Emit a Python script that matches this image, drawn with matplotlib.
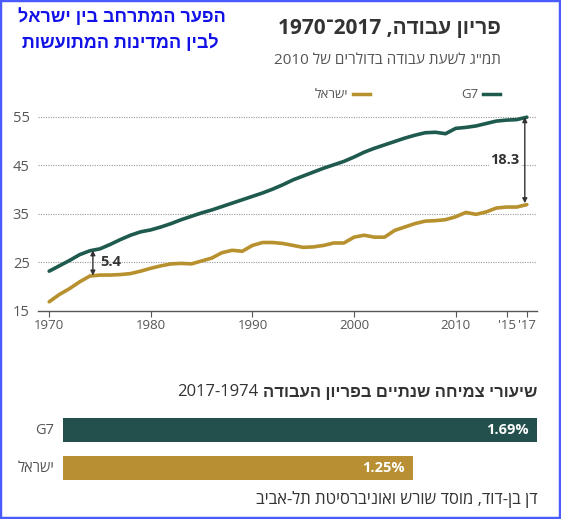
import numpy as np
import matplotlib
matplotlib.use("Agg")
import matplotlib.pyplot as plt
from matplotlib.patches import Rectangle

# data
years = list(range(1970, 2018))
g7 = [23.2, 24.3, 25.4, 26.6, 27.4, 27.8, 28.7, 29.7, 30.6, 31.3,
      31.7, 32.3, 33.0, 33.8, 34.5, 35.2, 35.8, 36.5, 37.2, 37.9,
      38.6, 39.3, 40.1, 41.0, 42.0, 42.8, 43.6, 44.4, 45.1, 45.8,
      46.7, 47.7, 48.5, 49.2, 49.9, 50.6, 51.2, 51.7, 51.8, 51.5,
      52.6, 52.8, 53.1, 53.6, 54.1, 54.3, 54.4, 54.9]
israel = [16.9, 18.4, 19.6, 21.0, 22.2, 22.4, 22.4, 22.5, 22.7, 23.2,
          23.8, 24.3, 24.7, 24.8, 24.7, 25.3, 25.9, 27.0, 27.5, 27.3,
          28.5, 29.1, 29.1, 28.9, 28.5, 28.1, 28.2, 28.5, 29.0, 29.0,
          30.2, 30.6, 30.2, 30.2, 31.6, 32.3, 33.0, 33.5, 33.6, 33.8,
          34.4, 35.3, 34.9, 35.4, 36.2, 36.4, 36.4, 36.9]
yticks = [15, 25, 35, 45, 55]
xticks = [1970, 1980, 1990, 2000, 2010, 2015, 2017]
xticklabels = ["1970", "1980", "1990", "2000", "2010", "'15", "'17"]

bar_names = ["G7", "ישראל"]
bar_values = [1.69, 1.25]
bar_labels = ["1.69%", "1.25%"]

GREEN = "#1f5a4f"
GOLD = "#b8912f"
BAR_GREEN = "#23504c"
BAR_GOLD = "#b98f33"
DARK = "#333333"
GREY = "#555555"

plt.rcParams["font.family"] = ["Open Sans", "Liberation Sans", "DejaVu Sans"]


def rtl(s):
    # matplotlib draws left to right, so hebrew is given in visual order
    return s[::-1]


W, H = 561, 519
fig = plt.figure(figsize=(W / 100, H / 100), dpi=100)


def fx(px):
    return px / W


def fy(py):
    return 1 - py / H


# blue frame
fig.patches.append(Rectangle((0, 0), 1, 1, transform=fig.transFigure, fill=False,
                             edgecolor="#4a5cff", linewidth=3.2))

# blue headline top-left
hfam = ["Liberation Sans", "DejaVu Sans"]
fig.text(fx(122), fy(17), rtl("הפער המתרחב בין ישראל"), ha="center", va="center",
         fontsize=13, fontweight="bold", color="#1212e8", family=hfam)
fig.text(fx(120), fy(43), rtl("לבין המדינות המתועשות"), ha="center", va="center",
         fontsize=13, fontweight="bold", color="#1212e8", family=hfam)

# chart title and subtitle (right aligned)
fig.text(fx(501), fy(28), "1970\u05be2017 ," + rtl("פריון עבודה"), ha="right", va="center",
         fontsize=15, fontweight="bold", color=DARK)
fig.text(fx(501), fy(61), "2010 " + rtl('תמ"ג לשעת עבודה בדולרים של'), ha="right", va="center",
         fontsize=11, color=GREY)

# legend
fig.lines.append(plt.Line2D([fx(483), fx(500)], [fy(94), fy(94)], transform=fig.transFigure,
                            color=GREEN, linewidth=2.5))
fig.text(fx(479), fy(94), "G7", ha="right", va="center", fontsize=9.5, color=GREY)
fig.lines.append(plt.Line2D([fx(353), fx(370)], [fy(94), fy(94)], transform=fig.transFigure,
                            color=GOLD, linewidth=2.5))
fig.text(fx(348), fy(94), rtl("ישראל"), ha="right", va="center", fontsize=9.5, color=GREY)

# line chart
ax = fig.add_axes([fx(38), fy(311), fx(537) - fx(38), fy(107) - fy(311)])
ax.set_xlim(1968.9, 2018.0)
ax.set_ylim(15, 57)
for y in yticks[1:]:
    ax.axhline(y, color="#999999", linewidth=0.8, linestyle=(0, (1, 1.2)), zorder=1)
ax.plot(years, g7, color=GREEN, linewidth=2.6, zorder=3, solid_capstyle="round")
ax.plot(years, israel, color=GOLD, linewidth=2.6, zorder=3, solid_capstyle="round")

for s in ["top", "right", "left"]:
    ax.spines[s].set_visible(False)
ax.spines["bottom"].set_color("#555555")
ax.spines["bottom"].set_linewidth(1.0)
ax.set_yticks(yticks)
ax.set_yticklabels([str(v) for v in yticks])
ax.tick_params(axis="y", length=0, pad=6, labelsize=10.5, labelcolor=GREY)
ax.set_xticks(xticks)
ax.set_xticklabels(xticklabels)
ax.tick_params(axis="x", length=4, width=0.8, color="#555555", pad=2,
               labelsize=9.5, labelcolor=GREY)

# gap annotations
i74 = years.index(1974)
ax.annotate("", xy=(1974.3, israel[i74] + 0.1), xytext=(1974.3, g7[i74] + 0.1),
            arrowprops=dict(arrowstyle="<|-|>", color=DARK, lw=1.0,
                            mutation_scale=7, shrinkA=0, shrinkB=0), zorder=4)
ax.text(1975.0, 25.0, "5.4", ha="left", va="center", fontsize=10.5,
        fontweight="bold", color=DARK)
ax.annotate("", xy=(2016.8, israel[-1] + 0.3), xytext=(2016.8, g7[-1]),
            arrowprops=dict(arrowstyle="<|-|>", color=DARK, lw=1.0,
                            mutation_scale=7, shrinkA=0, shrinkB=0), zorder=4)
ax.text(2016.3, 46.0, "18.3", ha="right", va="center", fontsize=10.5,
        fontweight="bold", color=DARK,
        bbox=dict(facecolor="white", edgecolor="none", pad=1))

# bar chart of yearly growth
bx = fig.add_axes([fx(62.5), fy(487), fx(537) - fx(62.5), fy(411) - fy(487)])
pos = [0, 1]
bx.barh(pos, bar_values, height=0.63, color=[BAR_GREEN, BAR_GOLD])
bx.set_xlim(0, bar_values[0])
bx.set_ylim(1.5, -0.5)
bx.axis("off")
for p, v, lab in zip(pos, bar_values, bar_labels):
    bx.text(v - 0.03, p, lab, ha="right", va="center", color="white",
            fontsize=10.5, fontweight="bold")
for p, name in zip(pos, bar_names):
    bx.text(-0.03, p, rtl(name) if name != "G7" else name, ha="right", va="center",
            color=GREY, fontsize=10.5)

# bar chart title: bold hebrew + regular years on its left
t_heb = fig.text(fx(537), fy(392), rtl("שיעורי צמיחה שנתיים בפריון העבודה"), ha="right",
                 va="center", fontsize=12, fontweight="bold", color=DARK)
fig.canvas.draw()
bb = t_heb.get_window_extent()
fig.text((bb.x0 - 4) / W, fy(392), "2017-1974", ha="right", va="center",
         fontsize=12, color=DARK)

# source
fig.text(fx(538), fy(499), rtl("דן בן-דוד, מוסד שורש ואוניברסיטת תל-אביב"), ha="right",
         va="center", fontsize=12, color=DARK)

fig.savefig("out.png", dpi=100)
